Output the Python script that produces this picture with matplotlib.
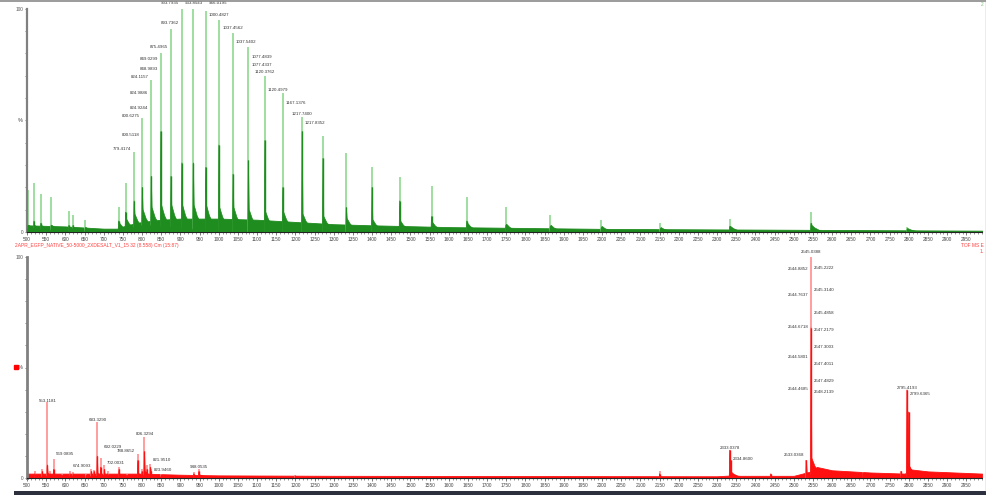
import matplotlib.pyplot as plt
import numpy as np
from matplotlib.lines import Line2D
from matplotlib.patches import Rectangle

plt.rcParams['font.family'] = ['Liberation Sans', 'DejaVu Sans']

# ---- top spectrum (green) : peak m/z, apex %, darker part %, tail %
top_mz = [503, 518, 536, 563, 609, 620, 652, 739, 757, 779.42, 800.63, 824.12,
          849.03, 875.50, 903.79, 933.85, 966.02, 1000.48, 1037.46, 1077.48,
          1120.38, 1167.14, 1217.74, 1272, 1333, 1400, 1472, 1555, 1647, 1749,
          1865, 1998, 2152, 2333, 2545, 2796]
top_int = [19, 22, 17, 15.5, 9.5, 7.6, 5.5, 11, 22, 36, 51, 68,
           80, 91, 100, 100, 99, 95, 89, 83,
           70, 62, 51.5, 43, 35.4, 29, 24.4, 20.5, 15.8, 11,
           7.6, 5.4, 3.9, 5.7, 9, 2.4]
top_dark = [3, 5, 4, 3, 3, 3, 2, 5, 9, 14, 20, 25,
            45, 25, 31, 31, 29, 39, 26, 32,
            41, 20, 45, 33, 11, 20, 14, 7, 5, 3,
            2.5, 2, 1.5, 2.5, 4, 1.5]
top_tail = [3, 3, 3, 3, 2, 2, 2, 4, 6, 8, 10, 11,
            12, 12, 12, 12, 12, 11, 11, 10,
            9, 9, 8, 7, 6, 5.5, 5, 4.5, 4, 3.5,
            3, 2.5, 2, 2.5, 3, 1.5]
top_base_mz = [500, 600, 700, 735, 760, 800, 850, 900, 1000, 1100, 1200, 1300,
               1400, 1600, 1800, 2000, 2500, 2991]
top_base = [3, 2.5, 1.5, 1.5, 3, 4.5, 5.5, 6, 6, 5.5, 4.5, 3.5,
            3, 2.2, 1.8, 1.4, 1, 0.6]

top_labels = [
    ("903.7935", 903.79, 102.3, 'right'), ("933.8543", 933.85, 102.3, 'center'),
    ("966.0195", 966.02, 102.3, 'left'), ("1000.4827", 1000.48, 97.1, 'center'),
    ("1037.4562", 1037.46, 91.1, 'center'), ("1037.5402", 1037.46, 85.1, 'left'),
    ("1077.4839", 1077.48, 78.4, 'left'), ("1077.4337", 1077.48, 74.7, 'left'),
    ("1120.3762", 1120.38, 71.7, 'center'), ("1120.4979", 1120.38, 63.5, 'left'),
    ("1167.1376", 1167.14, 57.6, 'left'), ("1217.7400", 1217.74, 52.7, 'center'),
    ("1217.8352", 1217.74, 48.9, 'left'), ("893.7362", 903.79, 93.6, 'right'),
    ("875.4965", 875.50, 83.0, 'right'), ("849.0299", 849.03, 77.4, 'right'),
    ("848.9893", 849.03, 73.0, 'right'), ("824.1157", 824.12, 69.5, 'right'),
    ("824.9886", 824.12, 62.0, 'right'), ("824.9244", 824.12, 55.3, 'right'),
    ("800.6275", 800.63, 52.0, 'right'), ("800.5118", 800.63, 43.4, 'right'),
    ("779.4174", 779.42, 37.0, 'right'),
]

# ---- bottom spectrum (red)
bot_mz = [520, 540, 553.12, 560, 569.09, 590, 612, 620, 655, 668, 674.91, 683.33,
          692.02, 702.00, 710, 740, 760, 788.87, 800, 806.33, 813, 821.95, 823.95,
          850, 935, 948.05, 1200, 2150, 2333.04, 2334.86, 2440, 2533.04, 2545.04,
          2680, 2780, 2795.42, 2799.64]
bot_int = [3, 4, 34.4, 3, 8.7, 2, 3, 2.5, 2, 4, 3.5, 25.3,
           9.2, 5.7, 3, 5, 2, 11, 4, 18.6, 6, 6.5, 4.2,
           2, 2.5, 4, 1.5, 3, 12.7, 8, 2, 8, 100,
           2.5, 3, 40, 30]
bot_dark = [2, 3, 6, 2, 4, 1.5, 2, 2, 1.5, 3, 3, 10,
            5, 4, 2, 4, 1.5, 8, 3, 12, 4, 5, 3,
            1.5, 2, 3, 1, 2, 12.7, 8, 2, 8, 68,
            2.5, 3, 40, 30]
bot_tail = [1, 1, 2, 1, 1, 1, 1, 1, 1, 1, 1, 2,
            1.5, 1, 1, 1.5, 1, 2, 1, 3, 1.5, 1.5, 1,
            1, 1, 1.5, 0.5, 0.5, 3, 2, 0.5, 2, 9,
            1, 1, 7, 5]
bot_base_mz = [500, 600, 700, 800, 900, 1000, 1300, 2300, 2340, 2360, 2500, 2545,
               2560, 2600, 2700, 2790, 2800, 2850, 2991]
bot_base = [2, 2, 2, 2, 1.5, 1.2, 1, 0.8, 1.2, 1, 1, 3,
            5, 3.5, 2.5, 2, 4, 3, 2]

bot_labels = [
    ("2545.0388", 2545.04, 102.1, 'center'), ("2544.8852", 2545.04, 94.4, 'right'),
    ("2545.2222", 2545.04, 94.9, 'left'), ("2545.3140", 2545.04, 85.1, 'left'),
    ("2544.7637", 2545.04, 82.8, 'right'), ("2545.4858", 2545.04, 74.5, 'left'),
    ("2544.6718", 2545.04, 68.2, 'right'), ("2547.2179", 2545.04, 67.0, 'left'),
    ("2547.3003", 2545.04, 59.4, 'left'), ("2544.5801", 2545.04, 54.6, 'right'),
    ("2547.4011", 2545.04, 51.6, 'left'), ("2547.4829", 2545.04, 43.9, 'left'),
    ("2544.4685", 2545.04, 40.1, 'right'), ("2548.2139", 2545.04, 38.8, 'left'),
    ("2795.4193", 2795.42, 40.9, 'center'), ("2799.6365", 2795.42, 37.9, 'left'),
    ("2333.0378", 2333.04, 13.4, 'center'), ("2334.8600", 2333.04, 8.5, 'left'),
    ("2533.0368", 2533.04, 10.4, 'right'), ("553.1181", 553.12, 35.0, 'center'),
    ("569.0895", 569.09, 10.7, 'left'), ("674.9093", 674.91, 5.4, 'right'),
    ("683.3290", 683.33, 26.2, 'center'), ("692.0229", 692.02, 14.2, 'left'),
    ("702.0031", 702.00, 6.7, 'left'), ("788.8652", 788.87, 12.4, 'right'),
    ("806.3294", 806.33, 19.8, 'center'), ("821.9510", 821.95, 8.1, 'left'),
    ("823.9460", 823.95, 3.6, 'left'), ("948.0535", 948.05, 4.8, 'center'),
]

title = "2APR_EGFP_NATIVE_50-5000_2XDESALT_V1_15 32 (8.558) Cm (15:87)"
tick_vals = list(range(500, 2951, 50))
tick_text = [str(v) for v in tick_vals]


def draw_spectrum(ax, mz, inten, dark, tail, base_mz, base, light_c, dark_c):
    ax.fill_between(base_mz, 0, base, color=dark_c, lw=0.6, zorder=2)
    ax.vlines(mz, 0, inten, color=light_c, lw=1.2, zorder=2)
    for m, d, t in zip(mz, dark, tail):
        ax.fill([m - 1.5, m, m + 2, m + 10, m + 30], [0, d, t, t * 0.6, 0],
                color=dark_c, lw=0.5, zorder=3)
    ax.vlines(mz, 0, dark, color=dark_c, lw=1.0, zorder=4)


def add_labels(ax, labels):
    for txt, m, y, side in labels:
        dx = {'right': -2, 'left': 2, 'center': 0}[side]
        ax.annotate(txt, (m, y), xytext=(dx, 0), textcoords='offset points',
                    ha=side, va='center', fontsize=3.2, color='#333333',
                    annotation_clip=False)


def style_axis(ax):
    ax.set_xlim(500, 2991)
    ax.set_ylim(0, 100)
    for s in ['top', 'right']:
        ax.spines[s].set_visible(False)
    ax.spines['left'].set_color('#808080')
    ax.spines['left'].set_linewidth(1.6)
    ax.spines['bottom'].set_color('#222222')
    ax.spines['bottom'].set_linewidth(0.8)
    ax.set_xticks(tick_vals)
    ax.set_xticklabels(tick_text)
    ax.set_xticks(np.arange(500, 2991, 10), minor=True)
    ax.set_yticks([0, 100])
    ax.set_yticklabels(['0', '100'])
    ax.set_yticks(np.arange(10, 100, 10), minor=True)
    ax.tick_params(axis='x', which='major', length=2.5, width=0.5, labelsize=3.4,
                   pad=1.2, colors='#444444')
    ax.tick_params(axis='x', which='minor', length=1.2, width=0.4, colors='#444444')
    ax.tick_params(axis='y', which='both', length=1.5, width=0.5, labelsize=3.4,
                   pad=1, colors='#555555')
    ax.text(-0.004, 0.5, '%', transform=ax.transAxes, ha='right', va='center',
            fontsize=4, color='#444444')


fig = plt.figure(figsize=(9.87, 4.95), dpi=100)

ax1 = fig.add_axes([0.0274, 0.5313, 0.9676, 0.4515])
draw_spectrum(ax1, top_mz, top_int, top_dark, top_tail, top_base_mz, top_base,
              '#8fd88f', '#1e8c1e')
add_labels(ax1, top_labels)
style_axis(ax1)

ax2 = fig.add_axes([0.0274, 0.0343, 0.9676, 0.4465])
draw_spectrum(ax2, bot_mz, bot_int, bot_dark, bot_tail, bot_base_mz, bot_base,
              '#ff8c8c', '#ff1010')
add_labels(ax2, bot_labels)
style_axis(ax2)
ax2.spines['left'].set_linewidth(2.0)

# header / side texts (cut off by the window edge in the screenshot)
fig.text(984 / 987, 1 - 245 / 495, 'TOF MS E', fontsize=3.5, color='#ff4040',
         ha='right', va='center')
fig.text(984 / 987, 1 - 252 / 495, '1.', fontsize=3.5, color='#ff4040',
         ha='right', va='center')
fig.text(984 / 987, 1 - 4 / 495, '2', fontsize=3.5, color='#7fbf7f',
         ha='right', va='center')
fig.text(15 / 987, 1 - 246 / 495, title, fontsize=3.5, color='#ff4040',
         ha='left', va='center')
fig.add_artist(Line2D([16 / 987], [1 - 367 / 495], marker='s', markersize=2.2,
                      color='#ff0000', lw=0))

# window frame bits
fig.add_artist(Line2D([0, 1], [0.998, 0.998], color='#8a8a8a', lw=1.2))
fig.add_artist(Line2D([0.9985, 0.9985], [0.008, 1], color='#a0a0a0', lw=1.0))
fig.add_artist(Rectangle((14 / 987, 0), 1, 4 / 495, color='#2c2f3d', lw=0))

fig.savefig('out.png', dpi=100)
